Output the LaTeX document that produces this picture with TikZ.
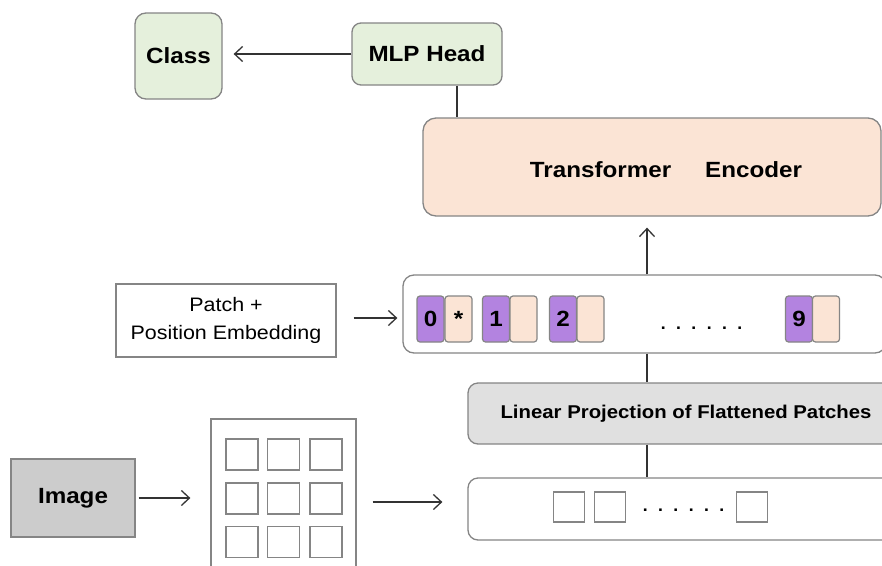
\documentclass[tikz,border=0pt]{standalone}
\usepackage{fontspec}
\setmainfont{Liberation Sans}[FakeStretch=1.1]
\usetikzlibrary{arrows.meta,calc}
\definecolor{gfill}{HTML}{E5F0DC}
\definecolor{pfill}{HTML}{FBE4D5}
\definecolor{purp}{HTML}{B383E0}
\definecolor{lgray}{HTML}{E0E0E0}
\definecolor{igray}{HTML}{CCCCCC}
\definecolor{bord}{HTML}{858585}
\definecolor{ink}{HTML}{333333}
\tikzset{
  box/.style={draw=bord,line width=1.3pt,inner sep=0pt,rectangle},
  rbox/.style={box,rounded corners=11pt},
  tok/.style={draw=bord,line width=1.2pt,rounded corners=3pt,minimum width=27pt,minimum height=46pt,inner sep=0pt,font=\fontsize{22}{24}\selectfont\bfseries},
  sq/.style={draw=bord,line width=1.3pt,minimum width=31pt,minimum height=30pt,inner sep=0pt},
  lbl/.style={font=\fontsize{22}{24}\selectfont\bfseries,text=black},
  arr/.style={draw=ink,line width=1.3pt,-{Straight Barb[length=8pt,width=15pt,line width=1.3pt]}},
  ln/.style={draw=ink,line width=1.3pt},
  dots/.style={font=\fontsize{24}{24}\selectfont,inner sep=0pt}
}
\begin{document}
\begin{tikzpicture}[x=1pt,y=-1pt]
\clip (0,0) rectangle (882,565);
\fill[white] (0,0) rectangle (882,565);
% top row
\node[rbox,fill=gfill,minimum width=87pt,minimum height=86pt,lbl] (cls) at (178.5,56) {Class};
\node[rbox,fill=gfill,rounded corners=9pt,minimum width=150pt,minimum height=62pt,lbl] (mlp) at (427,54) {MLP Head};
% encoder
\node[rbox,fill=pfill,rounded corners=13pt,minimum width=458pt,minimum height=98pt] (enc) at (652,167) {};
\node[lbl] (enctxt) at (666,170) {Transformer\hspace{34pt}Encoder};
% embedding row
\node[rbox,fill=white,minimum width=483pt,minimum height=78pt] (row) at (644.5,314) {};
\node[tok,fill=purp] (p0) at (430.5,319) {0};
\node[tok,fill=pfill] (e0) at (458.5,319) {*};
\node[tok,fill=purp] (p1) at (496,319) {1};
\node[tok,fill=pfill] (e1) at (523.5,319) {};
\node[tok,fill=purp] (p2) at (563,319) {2};
\node[tok,fill=pfill] (e2) at (590.5,319) {};
\node[dots,anchor=base] (d1) at (701.5,329) {.\hspace{8pt}.\hspace{8pt}.\hspace{8pt}.\hspace{8pt}.\hspace{8pt}.};
\node[tok,fill=purp] (p9) at (799,319) {9};
\node[tok,fill=pfill] (e9) at (826,319) {};
% patch + position embedding
\node[box,fill=white,minimum width=220pt,minimum height=73pt,align=center,font=\fontsize{19.5}{28}\selectfont] (pe) at (226,320.5) {Patch +\\Position Embedding};
% linear projection
\node[rbox,fill=lgray,rounded corners=10pt,minimum width=436pt,minimum height=61pt,font=\fontsize{18.5}{22}\selectfont\bfseries] (lp) at (686,413.5) {Linear Projection of Flattened Patches};
% bottom patches box
\node[rbox,fill=white,rounded corners=10pt,minimum width=436pt,minimum height=62pt] (bot) at (686,509) {};
\node[sq] (s1) at (569,507) {};
\node[sq] (s2) at (610,507) {};
\node[dots,anchor=base] (d2) at (683.5,511) {.\hspace{8pt}.\hspace{8pt}.\hspace{8pt}.\hspace{8pt}.\hspace{8pt}.};
\node[sq] (s3) at (752,507) {};
% image and grid
\node[box,fill=igray,minimum width=124pt,minimum height=78pt,lbl] (img) at (73,498) {Image};
\node[box,fill=white,minimum width=145pt,minimum height=182pt] (grid) at (283.5,510) {};
\foreach \cx/\c in {242/a,283.5/b,326/c}{
  \foreach \cy/\r in {454.5/1,498.5/2,542/3}{
    \node[sq,minimum width=32pt,minimum height=31pt] (g\c\r) at (\cx,\cy) {};
  }
}
% connectors
\coordinate (axis) at (647,0);
\coordinate (mx) at (457,0);
\coordinate (ya) at (0,502);
\draw[arr,shorten >=11pt] (mlp.west) -- (mlp.west -| cls.east);
\draw[ln] (mlp.south -| mx) -- (enc.north -| mx);
\draw[arr,shorten >=11pt] (row.north -| axis) -- (enc.south -| axis);
\draw[arr,shorten <=17pt,shorten >=5pt] (pe.east |- row.west) ++(0,4) coordinate (pa) (pa) -- (pa -| row.west);
\draw[ln] (row.south -| axis) -- (lp.north -| axis);
\draw[ln] (lp.south -| axis) -- (bot.north -| axis);
\draw[arr,shorten <=3pt,shorten >=20pt] (img.east) -- (img.east -| grid.west);
\draw[arr,shorten <=16pt,shorten >=25pt] (grid.east |- ya) -- (bot.west |- ya);
\end{tikzpicture}
\end{document}
